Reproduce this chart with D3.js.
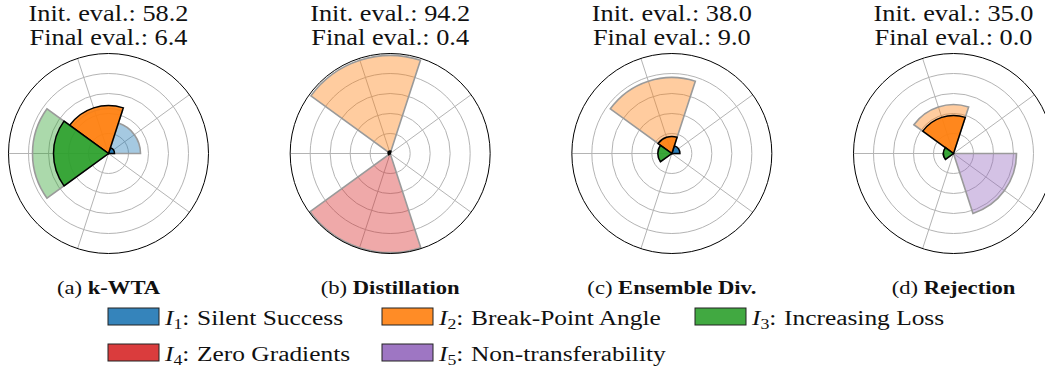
<!DOCTYPE html>
<html><head><meta charset="utf-8">
<script src="https://cdn.jsdelivr.net/npm/d3@7"></script>
<style>
body{margin:0;background:#fff}
svg{display:block}
text{font-family:"Liberation Serif","Times New Roman",Times,serif;}
</style>
</head><body><svg id="chart" width="1045" height="370"></svg>
<script>
// Attack methods (one polar panel each) and their overall evaluation scores
const methods = ["k-WTA", "Distillation", "Ensemble Div.", "Rejection"];
const panelLetters = ["a", "b", "c", "d"];
const initEval = [58.2, 94.2, 38.0, 35.0];
const finalEval = [6.4, 0.4, 9.0, 0.0];

// Indicators I1..I5
const indicators = ["Silent Success", "Break-Point Angle", "Increasing Loss", "Zero Gradients", "Non-transferability"];
const indicatorColors = ["#1f77b4", "#ff7f0e", "#2ca02c", "#d62728", "#9467bd"];

// Indicator magnitudes per method: initial (light) and final (dark)
const initKWTA = [32, 45, 76, 0, 0];
const finalKWTA = [6, 48, 55, 0, 0];
const initDistill = [0, 98, 0, 99, 0];
const finalDistill = [0, 2.5, 2, 0, 0];
const initEnsemble = [8, 76, 14, 0, 0];
const finalEnsemble = [8, 17, 14, 0, 0];
const initRejection = [0, 49, 10, 0, 63];
const finalRejection = [0, 38, 10, 0, 0];

const initValues = [initKWTA, initDistill, initEnsemble, initRejection];
const finalValues = [finalKWTA, finalDistill, finalEnsemble, finalRejection];

const rMax = 100;
const ringTicks = [20, 40, 60, 80];
const spokeDegrees = [36, 108, 180, 252, 324];

const svg = d3.select("#chart");

const radius = 100;
const cy = 153.5;
const xPanel = d3.scalePoint().domain(methods).range([108.5, 953.5]);
const r = d3.scaleLinear().domain([0, rMax]).range([0, radius]);
const sector = 2 * Math.PI / indicators.length;

// math angle (ccw from east) -> d3 arc angle (cw from north)
const arcFor = (i, v) => d3.arc()
  .innerRadius(0)
  .outerRadius(r(v))
  .startAngle(Math.PI / 2 - (i + 1) * sector)
  .endAngle(Math.PI / 2 - i * sector)();

// horizontally widened serif text
function stretchText(parent, x, y, sx, size, anchor) {
  return parent.append("g")
    .attr("transform", `translate(${x},${y}) scale(${sx},1)`)
    .append("text")
    .style("font-size", size + "px")
    .attr("fill", "#111")
    .attr("text-anchor", anchor);
}

methods.forEach((m, k) => {
  const cx = xPanel(m);
  const g = svg.append("g").attr("transform", `translate(${cx},${cy})`);

  // grid rings
  g.selectAll("circle.ring").data(ringTicks).join("circle")
    .attr("class", "ring")
    .attr("r", d => r(d)).attr("fill", "none")
    .attr("stroke", "#b4b4b4").attr("stroke-width", 1);
  // spokes
  g.selectAll("line.spoke").data(spokeDegrees).join("line")
    .attr("class", "spoke")
    .attr("x1", 0).attr("y1", 0)
    .attr("x2", d => radius * Math.cos(d * Math.PI / 180))
    .attr("y2", d => -radius * Math.sin(d * Math.PI / 180))
    .attr("stroke", "#b4b4b4").attr("stroke-width", 1);

  // initial bars (light)
  initValues[k].forEach((v, i) => {
    if (v <= 0) return;
    g.append("path").attr("d", arcFor(i, v))
      .attr("fill", indicatorColors[i]).attr("fill-opacity", 0.4)
      .attr("stroke", "#9a9a9a").attr("stroke-width", 1.6);
  });
  // final bars (dark)
  finalValues[k].forEach((v, i) => {
    if (v <= 0) return;
    g.append("path").attr("d", arcFor(i, v))
      .attr("fill", indicatorColors[i]).attr("fill-opacity", 0.9)
      .attr("stroke", "#000").attr("stroke-width", 1.5);
  });

  // outer spine
  g.append("circle").attr("r", radius).attr("fill", "none")
    .attr("stroke", "#000").attr("stroke-width", 1);

  // titles
  stretchText(svg, cx, 21, 1.17, 22.5, "middle").text(`Init. eval.: ${initEval[k].toFixed(1)}`);
  stretchText(svg, cx, 45, 1.17, 22.5, "middle").text(`Final eval.: ${finalEval[k].toFixed(1)}`);

  // caption
  const cap = stretchText(svg, cx, 294, 1.16, 19.5, "middle");
  cap.append("tspan").text(`(${panelLetters[k]}) `);
  cap.append("tspan").style("font-weight", "bold").text(m);
});

// legend
const legendCols = [108, 382, 695];
const legendRows = [308, 344];
const legend = svg.append("g");
indicators.forEach((name, i) => {
  const x = legendCols[i % 3];
  const y = legendRows[Math.floor(i / 3)];
  legend.append("rect")
    .attr("x", x).attr("y", y).attr("width", 51).attr("height", 17)
    .attr("fill", indicatorColors[i]).attr("fill-opacity", 0.9)
    .attr("stroke", "#222").attr("stroke-width", 1);
  const t = stretchText(legend, x + 57, y + 17, 1.27, 20, "start");
  t.append("tspan").style("font-style", "italic").text("I");
  t.append("tspan").style("font-size", "14px").attr("dy", 4).text(i + 1);
  t.append("tspan").attr("dy", -4).text(":");
  t.append("tspan").attr("dx", 6).text(name);
});
</script>
</body></html>
